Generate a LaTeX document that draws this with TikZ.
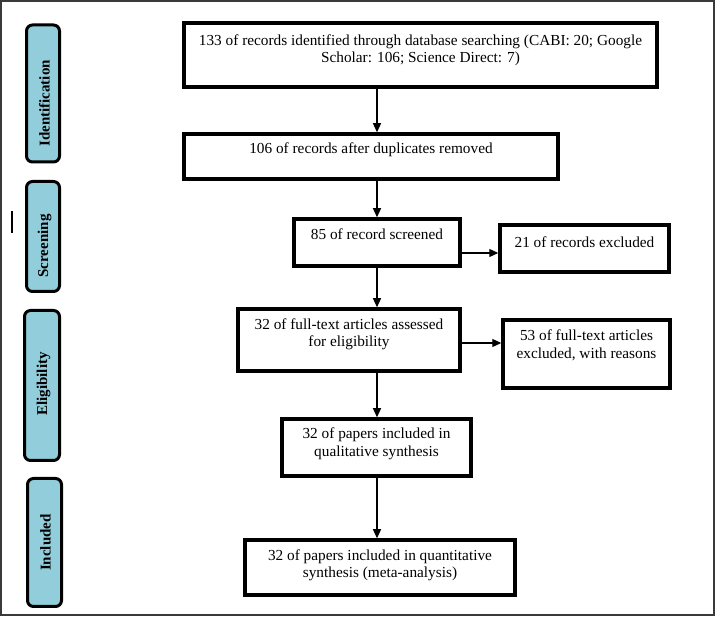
\documentclass[tikz,border=0pt]{standalone}
\usepackage{fontspec}
\setmainfont{Liberation Serif}
\usetikzlibrary{arrows.meta}
\definecolor{phase}{RGB}{146,205,220}
\definecolor{frame}{RGB}{58,58,58}
\tikzset{
  box/.style={draw=black, line width=3.5pt, inner sep=0pt, fill=white},
  txt/.style={align=center, inner sep=0pt, font=\fontsize{15.3}{17.5}\selectfont},
  phasebox/.style={draw=black, line width=3pt, rounded corners=6pt, fill=phase, inner sep=0pt},
  phasetxt/.style={rotate=90, inner sep=0pt, font=\fontsize{15}{17}\selectfont\bfseries},
  arr/.style={line width=1.2pt, -{Triangle[length=9pt,width=8pt]}}
}
\begin{document}
\begin{tikzpicture}[x=1pt, y=-1pt]
\useasboundingbox (0,0) rectangle (716,617);
\node[draw=frame, line width=2pt, minimum width=713pt, minimum height=614pt, inner sep=0pt] (frm) at (357.5,308.5) {};

% phase labels
\node[phasebox, minimum width=33pt, minimum height=137pt] (pid) at (43,93.5) {};
\node[phasetxt] (pidt) at (44.5,103.5) {Identification};
\node[phasebox, minimum width=33pt, minimum height=110pt] (psc) at (43,236.5) {};
\node[phasetxt] (psct) at (44.5,246) {Screening};
\node[phasebox, minimum width=35pt, minimum height=150pt] (pel) at (42,385.5) {};
\node[phasetxt] (pelt) at (43.5,384) {Eligibility};
\node[phasebox, minimum width=34pt, minimum height=128pt] (pin) at (44.5,542.5) {};
\node[phasetxt] (pint) at (45.5,542.5) {Included};
\coordinate (m1) at (12,211);
\coordinate (m2) at (12,233);
\draw[line width=1.5pt] (m1) -- (m2);

% boxes
\node[box, minimum width=473pt, minimum height=64pt] (b1) at (420.5,55) {};
\node[txt] (t1) at (420.5,50) {133 of records identified through database searching (CABI: 20; Google\\Scholar: 106; Science Direct: 7)};
\node[box, minimum width=374pt, minimum height=45pt] (b2) at (371,156.5) {};
\node[txt] (t2) at (371,149.5) {106 of records after duplicates removed};
\node[box, minimum width=166pt, minimum height=47pt] (b3) at (377,242.5) {};
\node[txt] (t3) at (377,234.5) {85 of record screened};
\node[box, minimum width=169pt, minimum height=47pt] (b4) at (584.5,248.5) {};
\node[txt] (t4) at (584.5,242.5) {21 of records excluded};
\node[box, minimum width=222pt, minimum height=62pt] (b5) at (349,340) {};
\node[txt] (t5) at (349,334.5) {32 of full-text articles assessed\\for eligibility};
\node[box, minimum width=167pt, minimum height=68pt] (b6) at (586.5,354) {};
\node[txt] (t6) at (586.5,345.5) {53 of full-text articles\\excluded, with reasons};
\node[box, minimum width=189pt, minimum height=57pt] (b7) at (376.5,447.5) {};
\node[txt] (t7) at (376.5,444) {32 of papers included in\\qualitative synthesis};
\node[box, minimum width=270pt, minimum height=55pt] (b8) at (380,567.5) {};
\node[txt] (t8) at (380,565.5) {32 of papers included in quantitative\\synthesis (meta-analysis)};

% connectors
\coordinate (ax) at (377,0);
\coordinate (h1) at (0,253);
\coordinate (h2) at (0,343);
\draw[arr] (b1.south -| ax) -- (b2.north -| ax);
\draw[arr] (b2.south -| ax) -- (b3.north -| ax);
\draw[arr] (b3.south -| ax) -- (b5.north -| ax);
\draw[arr] (b5.south -| ax) -- (b7.north -| ax);
\draw[arr] (b7.south -| ax) -- (b8.north -| ax);
\draw[arr] (b3.east |- h1) -- (b4.west |- h1);
\draw[arr] (b5.east |- h2) -- (b6.west |- h2);
\end{tikzpicture}
\end{document}
